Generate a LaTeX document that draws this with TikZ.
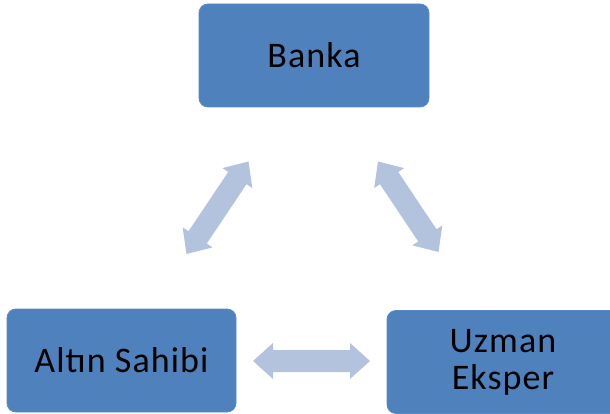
\documentclass[tikz,border=0pt]{standalone}
\usepackage{fontspec}
\setmainfont{Carlito}[LetterSpace=3]
\usetikzlibrary{calc}
\definecolor{boxblue}{HTML}{4F81BD}
\definecolor{boxedge}{HTML}{5A8AC6}
\definecolor{arrowcol}{HTML}{B3C3DE}
\tikzset{
  box/.style={draw=boxedge, line width=0.8pt, fill=boxblue, rounded corners=9pt,
    minimum height=103pt, inner sep=0pt, align=center,
    font=\fontsize{36}{37}\selectfont, text=black},
}
\newcommand\biarrow[2]{%
\fill[arrowcol]
 (#1)
 -- ($($(#1)!20pt!(#2)$)!18pt!90:(#2)$)
 -- ($($(#1)!20pt!(#2)$)!11pt!90:(#2)$)
 -- ($($(#2)!20pt!(#1)$)!11pt!-90:(#1)$)
 -- ($($(#2)!20pt!(#1)$)!18pt!-90:(#1)$)
 -- (#2)
 -- ($($(#2)!20pt!(#1)$)!18pt!90:(#1)$)
 -- ($($(#2)!20pt!(#1)$)!11pt!90:(#1)$)
 -- ($($(#1)!20pt!(#2)$)!11pt!-90:(#2)$)
 -- ($($(#1)!20pt!(#2)$)!18pt!-90:(#2)$)
 -- cycle;}
\begin{document}
\begin{tikzpicture}[x=1pt,y=-1pt]
\useasboundingbox (0,0) rectangle (610,414);
\node[box, minimum width=230pt] (banka) at (314,55.5) {Banka};
\node[box, minimum width=229pt] (altin) at (121.5,360.5) {Altın Sahibi};
\node[box, minimum width=232pt] (uzman) at (503,362) {Uzman\\Eksper};
% arrow end points
\coordinate (l1) at (186.5,254);
\coordinate (l2) at (248.5,161.5);
\coordinate (r1) at (378,161.5);
\coordinate (r2) at (438.5,252);
\coordinate (h1) at (253,361);
\coordinate (h2) at (370,361);
\biarrow{l1}{l2}
\biarrow{r1}{r2}
\biarrow{h1}{h2}
\end{tikzpicture}
\end{document}
